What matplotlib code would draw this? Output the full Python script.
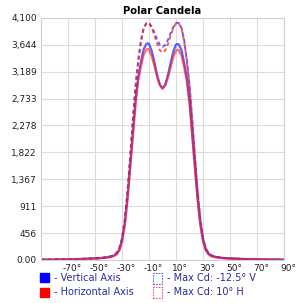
import matplotlib.pyplot as plt
from matplotlib.patches import Rectangle
from matplotlib.transforms import ScaledTranslation

angles = [-90, -80, -70, -60, -50, -45, -40, -36, -34, -32, -30, -28, -26, -24, -22,
          -20, -18, -16, -14, -12, -11, -10, -8, -6, -4, -2, 0, 2, 4, 6, 8, 10, 11,
          12, 14, 16, 18, 20, 22, 24, 26, 28, 30, 32, 34, 36, 40, 45, 50, 60, 70, 80, 90]

vertical = [5, 8, 12, 18, 28, 35, 50, 75, 110, 180, 340, 620, 1050, 1600, 2150,
            2700, 3100, 3360, 3570, 3660, 3670, 3655, 3540, 3345, 3130, 2970, 2910, 2970, 3135, 3345, 3535, 3650, 3660,
            3650, 3555, 3335, 3080, 2680, 2130, 1580, 1030, 610, 330, 175, 105, 72, 48, 33, 26, 17, 11, 7, 5]
horizontal = [4, 6, 10, 15, 24, 30, 42, 65, 95, 160, 310, 590, 1010, 1550, 2100,
              2650, 3040, 3280, 3480, 3565, 3575, 3560, 3450, 3280, 3095, 2955, 2900, 2955, 3090, 3270, 3440, 3550, 3560,
              3550, 3465, 3260, 3020, 2630, 2080, 1530, 1000, 585, 310, 160, 95, 62, 42, 29, 22, 14, 9, 6, 4]
maxcd_v = [5, 8, 12, 18, 28, 36, 52, 80, 120, 200, 370, 680, 1150, 1750, 2380,
           2950, 3380, 3720, 3930, 4010, 4020, 4012, 3950, 3844, 3730, 3642, 3610, 3642, 3730, 3844, 3950, 4012, 4020,
           4010, 3930, 3720, 3380, 2950, 2380, 1750, 1150, 680, 370, 200, 120, 80, 52, 36, 28, 18, 12, 8, 5]
maxcd_h = [4, 7, 10, 16, 25, 32, 46, 72, 110, 190, 360, 670, 1130, 1730, 2360,
           2930, 3360, 3700, 3920, 4005, 4015, 4010, 3932, 3801, 3659, 3550, 3510, 3550, 3659, 3801, 3932, 4010, 4020,
           4005, 3920, 3700, 3360, 2930, 2360, 1730, 1130, 670, 360, 190, 110, 72, 46, 32, 25, 16, 10, 7, 4]

yticks = [0, 456, 911, 1367, 1822, 2278, 2733, 3189, 3644, 4100]
ytick_labels = ['0.00', '456', '911', '1,367', '1,822', '2,278', '2,733', '3,189', '3,644', '4,100']
xticks = [-70, -50, -30, -10, 10, 30, 50, 70, 90]
xtick_labels = [f'{t}°' for t in xticks]

fig = plt.figure(figsize=(3.07, 3.03), dpi=100)
ax = fig.add_axes([0.1336, 0.142, 0.792, 0.799])

blue = '#2b2bff'
red = '#ff2020'
ax.plot(angles, maxcd_v, color=blue, lw=1.4, ls=(0, (2, 1.5)), alpha=0.75)
ax.plot(angles, maxcd_h, color=red, lw=1.4, ls=(0, (2, 1.5)), alpha=0.75)
ax.plot(angles, vertical, color=blue, lw=1.6, alpha=0.75)
ax.plot(angles, horizontal, color=red, lw=1.6, alpha=0.65)

ax.set_xlim(-90, 90)
ax.set_ylim(0, 4100)
ax.set_xticks(xticks)
ax.set_xticklabels(xtick_labels, fontsize=6.5, color='#202020')
ax.set_yticks(yticks)
ax.set_yticklabels(ytick_labels, fontsize=6.5, color='#202020')
ax.tick_params(length=0, pad=3)
shift = ScaledTranslation(4 / 100, 0, fig.dpi_scale_trans)
for lbl in ax.get_xticklabels():
    lbl.set_transform(lbl.get_transform() + shift)
ax.grid(True, color='#dcdcdc', lw=0.8)
for s in ax.spines.values():
    s.set_color('#d0d0d0')
ax.set_title('Polar Candela', fontsize=7.2, fontweight='bold', pad=3)

# legend below the axes
txt = '#2a2aa0'
fig.patches.append(Rectangle((40 / 307, 1 - 282 / 303), 9 / 307, 9 / 303,
                             transform=fig.transFigure, color='#0000ff'))
fig.patches.append(Rectangle((40 / 307, 1 - 297 / 303), 9 / 307, 9 / 303,
                             transform=fig.transFigure, color='#ff0000'))
fig.patches.append(Rectangle((153 / 307, 1 - 284 / 303), 9 / 307, 11 / 303, fill=False,
                             transform=fig.transFigure, ec='#6060ff', ls=(0, (1.5, 1)), lw=0.8))
fig.patches.append(Rectangle((153 / 307, 1 - 298 / 303), 9 / 307, 11 / 303, fill=False,
                             transform=fig.transFigure, ec='#ff6060', ls=(0, (1.5, 1)), lw=0.8))
fig.text(54 / 307, 1 - 278 / 303, '- Vertical Axis', fontsize=7, color=txt, va='center')
fig.text(54 / 307, 1 - 292 / 303, '- Horizontal Axis', fontsize=7, color=txt, va='center')
fig.text(167 / 307, 1 - 278 / 303, '- Max Cd: -12.5° V', fontsize=7, color=txt, va='center')
fig.text(167 / 307, 1 - 292 / 303, '- Max Cd: 10° H', fontsize=7, color=txt, va='center')

fig.savefig('out.png', dpi=100)
